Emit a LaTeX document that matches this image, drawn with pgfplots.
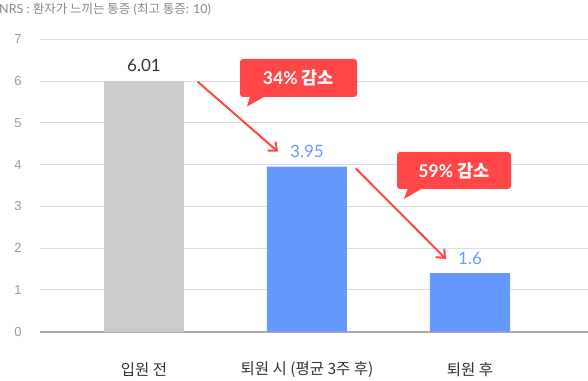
\documentclass[border=0pt]{standalone}
\usepackage{pgfplots}
\pgfplotsset{compat=1.18}
\usepackage{fontspec}
\setmainfont{Lato}
\newfontfamily\kr{Noto Sans CJK KR}
\newfontfamily\krb{Noto Sans CJK KR Bold}
\newfontfamily\lib{Liberation Sans}
\usetikzlibrary{arrows.meta}
\definecolor{barGray}{HTML}{CCCCCC}
\definecolor{barBlue}{HTML}{6699FF}
\definecolor{calloutRed}{HTML}{FF4747}
\definecolor{gridGray}{HTML}{DDDDDD}
\definecolor{baseGray}{HTML}{AAAAAA}
\definecolor{tickGray}{HTML}{999999}
\definecolor{titleGray}{HTML}{888888}
\definecolor{valDark}{HTML}{333333}
\definecolor{labDark}{HTML}{333333}
\begin{document}
\begin{tikzpicture}[x=1pt,y=1pt]
\useasboundingbox (0,0) rectangle (588,380);
\begin{axis}[
  at={(40pt,48.3pt)}, anchor=south west,
  scale only axis, width=548pt, height=292.4pt,
  xmin=-0.638, xmax=2.724, ymin=0, ymax=7,
  ytick={0,1,2,3,4,5,6,7},
  xtick={0,1,2},
  xticklabels={{\kr 입원 전},{\kr 퇴원 시 (평균 3주 후)},{\kr 퇴원 후}},
  major tick length=0,
  axis line style={draw=none},
  ymajorgrids, grid style={gridGray, line width=1pt},
  extra y ticks={0}, extra y tick labels={},
  extra y tick style={grid style={baseGray, line width=2pt}},
  yticklabel style={anchor=center, xshift=-22pt, text=tickGray, font=\lib\fontsize{13}{15}\selectfont},
  xticklabel style={anchor=center, yshift=-38.3pt, text=labDark, font=\fontsize{15.5}{18}\selectfont},
  /pgf/number format/assume math mode=true,
  ybar, bar width=80pt, bar shift=0pt,
  nodes near coords={\pgfplotspointmeta},
  point meta=explicit symbolic,
  nodes near coords style={anchor=base, yshift=9pt, inner sep=0pt, font=\fontsize{17}{19}\selectfont},
]
\addplot[fill=barGray, draw=none, nodes near coords style={text=valDark}] table[meta=label] {
x y label
0 6.01 6.01
};
\addplot[fill=barBlue, draw=none, nodes near coords style={text=barBlue}] table[meta=label] {
x y label
1 3.95 3.95
2 1.40 1.6
};
\end{axis}
% title
\node[anchor=west, inner sep=0pt, text=titleGray, font=\fontsize{12.5}{15}\selectfont] at (-1,371)
  {NRS : {\kr 환자가 느끼는 통증} ({\kr 최고 통증}: 10)};
% arrows
\draw[calloutRed, line width=2pt, -{Straight Barb[length=7pt,width=12pt,line width=2pt]}] (197.7,298.3) -- (278,228.3);
\draw[calloutRed, line width=2pt, -{Straight Barb[length=7pt,width=12pt,line width=2pt]}] (355.7,211.7) -- (446,121);
% callout 1
\fill[calloutRed, rounded corners=3pt] (240,283) rectangle (357,321);
\fill[calloutRed] (250,283.5) -- (247,273.5) -- (265,283.5) -- cycle;
\node[text=white, inner sep=0pt, font=\bfseries\fontsize{17.5}{20}\selectfont] at (298.5,302) {34\% {\krb 감소}};
% callout 2
\fill[calloutRed, rounded corners=3pt] (397,191) rectangle (511,228);
\fill[calloutRed] (408,191.5) -- (404,181) -- (422,191.5) -- cycle;
\node[text=white, inner sep=0pt, font=\bfseries\fontsize{17.5}{20}\selectfont] at (454,209.5) {59\% {\krb 감소}};
\end{tikzpicture}
\end{document}
